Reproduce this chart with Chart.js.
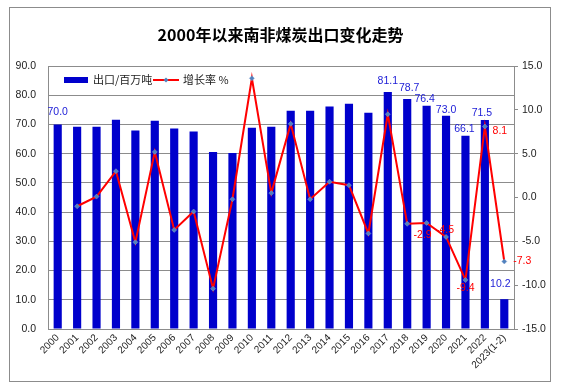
<!DOCTYPE html>
<html>
<head>
<meta charset="utf-8">
<script src="https://cdn.jsdelivr.net/npm/chart.js@4.4.1/dist/chart.umd.min.js"></script>
<style>
  html, body { margin: 0; padding: 0; background: #fff; }
  #wrap { position: relative; width: 561px; height: 390px; }
  #frame { position: absolute; left: 9px; top: 7px; width: 540px; height: 373px;
           border: 1px solid #8c8c8c; pointer-events: none; }
</style>
</head>
<body>
<div id="wrap">
  <canvas id="coalChart" width="561" height="390"></canvas>
  <div id="frame"></div>
</div>
<script>
// ─── Data ─────────────────────────────────────────────────
const years = ['2000','2001','2002','2003','2004','2005','2006','2007','2008','2009',
               '2010','2011','2012','2013','2014','2015','2016','2017','2018','2019',
               '2020','2021','2022','2023(1-2)'];

// 出口/百万吨
const exportsMt = [70.0, 69.2, 69.2, 71.6, 67.9, 71.3, 68.6, 67.6, 60.6, 60.2,
                   68.9, 69.2, 74.7, 74.7, 76.1, 77.1, 74.0, 81.1, 78.7, 76.4,
                   73.0, 66.1, 71.5, 10.2];

// 增长率 %
const growthPct = [null, -1.0, 0.1, 3.0, -5.1, 5.2, -3.7, -1.6, -10.4, -0.2,
                   13.6, 0.5, 8.4, -0.2, 1.8, 1.4, -4.1, 9.5, -3.0, -2.9,
                   -4.5, -9.4, 8.1, -7.3];

const leftTicks  = [0, 90, 10];    // min, max, step
const rightTicks = [-15, 15, 5];

// which points carry a value label
const barLabelIdx  = [0, 17, 18, 19, 20, 21, 22, 23];
const lineLabelIdx = [19, 20, 21, 22, 23];

// ─── Label placement (pixel nudges, styling only) ─────────
const barLabelNudge = {
  0: [0, -12], 17: [0, -11], 18: [2, -11], 19: [-2, -7],
  20: [0, -6], 21: [-1, -7], 22: [-3, -7], 23: [-4, -15]
};
const lineLabelNudge = {
  19: [-4, 12], 20: [-1, -7], 21: [0, 8], 22: [15, 5], 23: [18, 0]
};

const BAR_BLUE = '#0000cc';
const LINE_RED = '#ff0000';
const MARK_BLUE = '#4f81bd';
const GRID = '#8c8c8c';
const TICK_FONT = { family: '"Liberation Sans", Arial, sans-serif', size: 10.5 };
const CJK = '"Noto Sans CJK SC", sans-serif';

// ─── Plugins ──────────────────────────────────────────────
const valueLabels = {
  id: 'valueLabels',
  afterDatasetsDraw(chart) {
    const { ctx } = chart;
    ctx.save();
    ctx.font = '10.5px "Liberation Sans", Arial, sans-serif';
    ctx.textAlign = 'center';
    ctx.textBaseline = 'middle';

    const barMeta = chart.getDatasetMeta(0);
    ctx.fillStyle = '#1a1ad6';
    barLabelIdx.forEach(i => {
      const el = barMeta.data[i];
      const [dx, dy] = barLabelNudge[i] || [0, -8];
      ctx.fillText(exportsMt[i].toFixed(1), el.x + dx, el.y + dy);
    });

    const lineMeta = chart.getDatasetMeta(1);
    ctx.fillStyle = LINE_RED;
    lineLabelIdx.forEach(i => {
      const el = lineMeta.data[i];
      const [dx, dy] = lineLabelNudge[i] || [0, 10];
      ctx.fillText(growthPct[i].toFixed(1), el.x + dx, el.y + dy);
    });
    ctx.restore();
  }
};

const insideLegend = {
  id: 'insideLegend',
  afterDraw(chart) {
    const { ctx } = chart;
    const y = 80;
    ctx.save();
    ctx.font = '11px ' + CJK;
    ctx.textBaseline = 'middle';
    ctx.fillStyle = '#222';

    ctx.fillStyle = BAR_BLUE;
    ctx.fillRect(64, y - 3, 24, 6);
    ctx.fillStyle = '#222';
    ctx.fillText('出口/百万吨', 93, y);

    ctx.strokeStyle = LINE_RED;
    ctx.lineWidth = 2;
    ctx.beginPath();
    ctx.moveTo(153, y);
    ctx.lineTo(179, y);
    ctx.stroke();
    ctx.fillStyle = MARK_BLUE;
    ctx.beginPath();
    ctx.moveTo(166, y - 2.5); ctx.lineTo(168.5, y); ctx.lineTo(166, y + 2.5); ctx.lineTo(163.5, y);
    ctx.closePath();
    ctx.fill();

    ctx.fillStyle = '#222';
    ctx.fillText('增长率 %', 183, y);
    ctx.restore();
  }
};

// ─── Chart ────────────────────────────────────────────────
new Chart(document.getElementById('coalChart'), {
  type: 'bar',
  data: {
    labels: years,
    datasets: [
      {
        type: 'bar',
        label: '出口/百万吨',
        data: exportsMt,
        backgroundColor: BAR_BLUE,
        categoryPercentage: 1,
        barPercentage: 0.42,
        yAxisID: 'y',
        order: 2,
      },
      {
        type: 'line',
        label: '增长率 %',
        data: growthPct,
        borderColor: LINE_RED,
        borderWidth: 2,
        tension: 0,
        pointStyle: 'rectRot',
        pointRadius: 2.5,
        pointBackgroundColor: MARK_BLUE,
        pointBorderColor: '#7f9fd3',
        pointBorderWidth: 0.5,
        yAxisID: 'y1',
        order: 1,
      },
    ],
  },
  options: {
    responsive: false,
    animation: false,
    layout: { padding: { left: 0, right: 0, top: 0, bottom: 0 } },
    plugins: {
      legend: { display: false },
      tooltip: { enabled: false },
      title: {
        display: true,
        text: '2000年以来南非煤炭出口变化走势',
        color: '#000',
        font: { family: CJK, size: 16, weight: 'bold' },
        padding: { top: 25, bottom: 21.8 },
      },
    },
    scales: {
      x: {
        grid: { display: false, drawTicks: false },
        border: { display: true, color: GRID },
        ticks: { color: '#222', font: { ...TICK_FONT, size: 10 }, minRotation: 45, maxRotation: 45, padding: 3, autoSkip: false },
        afterFit: s => { s.height = 61; },
      },
      y: {
        position: 'left',
        min: leftTicks[0], max: leftTicks[1],
        grid: { color: GRID, drawTicks: false },
        border: { display: true, color: GRID },
        ticks: { stepSize: leftTicks[2], color: '#222', font: TICK_FONT, padding: 12, callback: v => v.toFixed(1) },
        afterFit: s => { s.width = 48; },
      },
      y1: {
        position: 'right',
        min: rightTicks[0], max: rightTicks[1],
        grid: { drawOnChartArea: false, color: GRID, tickLength: 4 },
        border: { display: true, color: GRID },
        ticks: { stepSize: rightTicks[2], color: '#222', font: TICK_FONT, padding: 4, callback: v => v.toFixed(1) },
        afterFit: s => { s.width = 47; },
      },
    },
  },
  plugins: [valueLabels, insideLegend],
});
</script>
</body>
</html>
